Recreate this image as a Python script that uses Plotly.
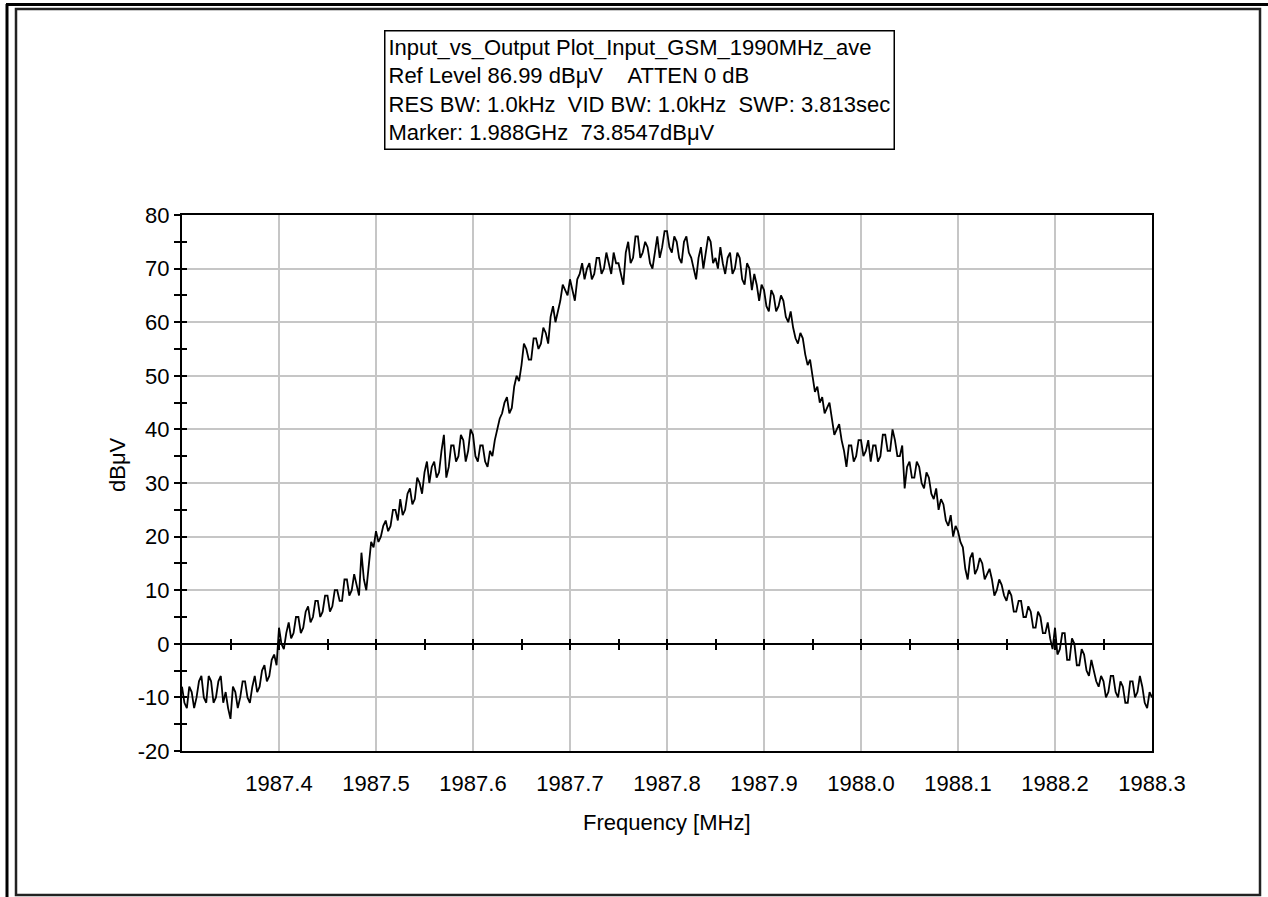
import plotly.graph_objects as go

# ---- data ----
freq_start = 1987.3
freq_step = 0.0025
level_dbuv = [
    -8, -11, -12, -8, -9, -12, -10, -7, -6, -10, -11, -6, -7, -11, -10, -7, -6, -11, -9, -12,
    -14, -8, -9, -12, -10, -7, -7, -10, -11, -8, -6, -9, -8, -5, -4, -7, -6, -3, -2, -4,
    3, 0, -1, 2, 4, 1, 2, 5, 5, 2, 3, 6, 7, 4, 5, 8, 8, 5, 6, 9,
    9, 6, 7, 10, 10, 8, 8, 12, 12, 9, 10, 13, 11, 9, 17, 12, 10, 15, 19, 18,
    21, 19, 20, 22, 23, 21, 22, 25, 25, 23, 27, 24, 25, 28, 29, 26, 27, 31, 30, 28,
    32, 34, 30, 33, 34, 31, 32, 36, 39, 31, 33, 37, 37, 34, 35, 39, 38, 34, 36, 40,
    39, 35, 34, 37, 37, 34, 33, 36, 35, 38, 40, 42, 43, 45, 46, 43, 44, 48, 50, 49,
    52, 56, 55, 53, 53, 57, 57, 55, 56, 59, 58, 56, 61, 63, 60, 62, 64, 67, 66, 65,
    68, 66, 64, 68, 69, 71, 68, 70, 71, 68, 69, 72, 72, 69, 70, 73, 71, 69, 73, 71,
    71, 69, 67, 73, 75, 71, 72, 76, 76, 72, 73, 75, 74, 71, 70, 73, 76, 72, 74, 77,
    77, 74, 73, 76, 75, 72, 71, 75, 76, 73, 72, 70, 68, 72, 74, 70, 73, 76, 75, 71,
    72, 70, 74, 71, 69, 72, 73, 69, 70, 73, 72, 68, 67, 71, 70, 66, 69, 67, 64, 67,
    66, 63, 62, 66, 65, 62, 63, 65, 64, 61, 60, 62, 59, 57, 56, 58, 57, 54, 52, 53,
    50, 47, 48, 45, 46, 43, 44, 45, 42, 39, 40, 41, 38, 36, 33, 37, 37, 34, 35, 38,
    38, 35, 36, 38, 34, 37, 37, 34, 35, 39, 39, 36, 36, 40, 38, 35, 35, 37, 29, 33,
    34, 31, 31, 34, 33, 30, 29, 32, 31, 28, 27, 29, 25, 27, 26, 23, 22, 24, 20, 22,
    21, 19, 18, 14, 12, 16, 17, 13, 14, 16, 15, 12, 13, 14, 12, 9, 10, 12, 11, 9,
    8, 10, 9, 6, 6, 8, 8, 5, 5, 7, 6, 3, 3, 6, 5, 2, 2, 4, 1, -1,
    3, -2, -1, 2, 2, -3, -3, 1, 0, -4, -4, -1, -2, -5, -6, -3, -5, -7, -8, -6,
    -7, -10, -9, -6, -6, -9, -10, -7, -8, -11, -11, -7, -7, -10, -9, -6, -8, -11, -12, -9,
    -10,
]
freq_mhz = [round(freq_start + i * freq_step, 5) for i in range(len(level_dbuv))]

x_tick_vals = [1987.3, 1987.4, 1987.5, 1987.6, 1987.7, 1987.8, 1987.9,
               1988.0, 1988.1, 1988.2, 1988.3]
x_tick_text = ["", "1987.4", "1987.5", "1987.6", "1987.7", "1987.8", "1987.9",
               "1988.0", "1988.1", "1988.2", "1988.3"]
zero_tick_vals = [round(1987.35 + 0.05 * i, 3) for i in range(19)]
y_tick_vals = [80, 70, 60, 50, 40, 30, 20, 10, 0, -10, -20]
y_tick_text = ["80", "70", "60", "50", "40", "30", "20", "10", "0", "-10", "-20"]

info_lines = [
    "Input_vs_Output Plot_Input_GSM_1990MHz_ave",
    "Ref Level 86.99 dBμV\u00a0\u00a0\u00a0\u00a0ATTEN 0 dB",
    "RES BW: 1.0kHz\u00a0\u00a0VID BW: 1.0kHz\u00a0\u00a0SWP: 3.813sec",
    "Marker: 1.988GHz\u00a0\u00a073.8547dBμV",
]

FONT = "Liberation Sans, Arial, sans-serif"
FS = 22

fig = go.Figure()
fig.add_trace(go.Scatter(x=freq_mhz, y=level_dbuv, mode="lines",
                         line=dict(color="black", width=1.8),
                         showlegend=False, hoverinfo="skip"))

W, H = 1268, 897
L, R, T, B = 182, 116, 215, 146
pw, ph = W - L - R, H - T - B


def px(xp):
    return (xp - L) / pw


def py(yp):
    return (H - B - yp) / ph


fig.update_layout(
    width=W, height=H,
    margin=dict(l=L, r=R, t=T, b=B),
    paper_bgcolor="white", plot_bgcolor="white",
    font=dict(family=FONT, size=FS, color="black"),
    xaxis=dict(range=[1987.3, 1988.3], tickvals=x_tick_vals, ticktext=x_tick_text,
               showgrid=True, gridcolor="#c6c6c6", gridwidth=1.5,
               showline=True, linecolor="black", linewidth=2, mirror=True,
               ticks="", ticklabelstandoff=12, zeroline=False,
               tickfont=dict(size=FS)),
    xaxis2=dict(range=[1987.3, 1988.3], overlaying="x", anchor="free", position=0.2,
                tickvals=zero_tick_vals, ticks="outside", ticklen=5, tickwidth=1.5,
                tickcolor="black", showticklabels=False, showgrid=False,
                showline=False, zeroline=False),
    xaxis3=dict(range=[1987.3, 1988.3], overlaying="x", anchor="free", position=0.2,
                tickvals=zero_tick_vals, ticks="inside", ticklen=5, tickwidth=1.5,
                tickcolor="black", showticklabels=False, showgrid=False,
                showline=False, zeroline=False),
    yaxis=dict(range=[-20, 80], tickvals=y_tick_vals, ticktext=y_tick_text,
               showgrid=True, gridcolor="#c6c6c6", gridwidth=1.5,
               showline=True, linecolor="black", linewidth=2, mirror=True,
               ticks="outside", ticklen=6, tickwidth=1.5, tickcolor="black",
               minor=dict(dtick=5, tick0=0, ticks="outside", ticklen=6,
                          tickwidth=1.5, tickcolor="black", showgrid=False),
               zeroline=True, zerolinecolor="black", zerolinewidth=2,
               tickfont=dict(size=FS)),
    yaxis2=dict(range=[-20, 80], overlaying="y", anchor="x", side="left",
                dtick=5, tick0=0, ticks="inside", ticklen=5, tickwidth=1.5,
                tickcolor="black", showticklabels=False, showgrid=False,
                showline=False, zeroline=False),
)

# invisible traces to activate the overlay axes
fig.add_trace(go.Scatter(x=[1987.3], y=[None], xaxis="x2", yaxis="y",
                         showlegend=False, hoverinfo="skip"))
fig.add_trace(go.Scatter(x=[1987.3], y=[None], xaxis="x3", yaxis="y",
                         showlegend=False, hoverinfo="skip"))
fig.add_trace(go.Scatter(x=[1987.3], y=[None], xaxis="x", yaxis="y2",
                         showlegend=False, hoverinfo="skip"))

fig.add_annotation(
    xref="paper", yref="paper", x=px(384), y=py(30), xanchor="left", yanchor="top",
    text="<br>".join(info_lines), align="left", showarrow=False,
    bordercolor="black", borderwidth=1.5, borderpad=3, bgcolor="white",
    font=dict(size=FS, family=FONT),
)
fig.add_annotation(xref="paper", yref="paper", x=0.5, y=py(822),
                   xanchor="center", yanchor="middle", showarrow=False,
                   text="Frequency [MHz]", font=dict(size=FS, family=FONT))
fig.add_annotation(xref="paper", yref="paper", x=px(117), y=py(465),
                   xanchor="center", yanchor="middle", showarrow=False,
                   text="dBμV", textangle=-90, font=dict(size=FS, family=FONT))

# outer frame
fig.add_shape(type="line", xref="paper", yref="paper",
              x0=px(6), x1=px(1268), y0=py(4.5), y1=py(4.5),
              line=dict(color="black", width=3))
fig.add_shape(type="line", xref="paper", yref="paper",
              x0=px(7), x1=px(7), y0=py(4), y1=py(897),
              line=dict(color="black", width=3))
# inner frame
fig.add_shape(type="rect", xref="paper", yref="paper",
              x0=px(16), x1=px(1260), y0=py(9), y1=py(895),
              line=dict(color="#222222", width=2.5))

fig.write_html("out.html",
               config={"displayModeBar": False},
               post_script="document.body.style.margin='0';"
                           "document.body.style.overflow='hidden';")
